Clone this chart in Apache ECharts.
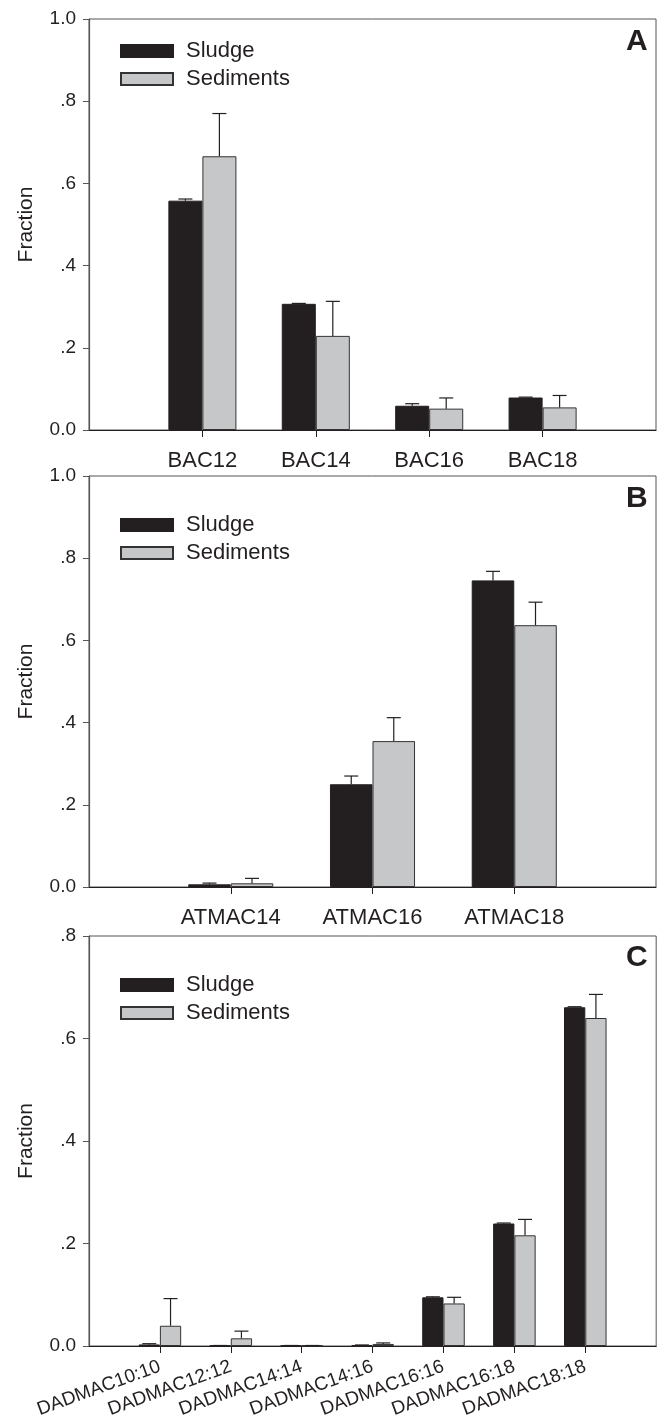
<!DOCTYPE html>
<html>
<head>
<meta charset="utf-8">
<script src="https://cdn.jsdelivr.net/npm/echarts@6/dist/echarts.min.js"></script>
<style>
  html, body { margin: 0; padding: 0; background: #fff; }
  #chart { width: 659px; height: 1423px; }
</style>
</head>
<body>
<div id="chart"></div>
<script>
// Panel A
var catsA = ['BAC12', 'BAC14', 'BAC16', 'BAC18'];
var sludgeA = [0.558, 0.307, 0.059, 0.079];
var sludgeErrA = [0.004, 0.001, 0.005, 0.001];
var sedA = [0.666, 0.229, 0.052, 0.055];
var sedErrA = [0.104, 0.084, 0.026, 0.029];

// Panel B
var catsB = ['ATMAC14', 'ATMAC16', 'ATMAC18'];
var sludgeB = [0.0065, 0.250, 0.746];
var sludgeErrB = [0.003, 0.020, 0.022];
var sedB = [0.009, 0.355, 0.637];
var sedErrB = [0.012, 0.057, 0.056];

// Panel C
var catsC = ['DADMAC10:10', 'DADMAC12:12', 'DADMAC14:14', 'DADMAC14:16', 'DADMAC16:16', 'DADMAC16:18', 'DADMAC18:18'];
var sludgeC = [0.003, 0.001, 0.001, 0.002, 0.095, 0.239, 0.661];
var sludgeErrC = [0.0015, 0, 0, 0, 0.001, 0.001, 0.001];
var sedC = [0.0395, 0.015, 0.001, 0.004, 0.083, 0.216, 0.640];
var sedErrC = [0.053, 0.014, 0, 0.002, 0.012, 0.031, 0.046];

var yLabelsA = ['0.0', '.2', '.4', '.6', '.8', '1.0'];
var yLabelsB = ['0.0', '.2', '.4', '.6', '.8', '1.0'];
var yLabelsC = ['0.0', '.2', '.4', '.6', '.8'];

var FONT = '"Liberation Sans", Arial, sans-serif';
var INK = '#231f20';
var GREY = '#c6c7c9';

function padCats(arr) { return [''].concat(arr, ['']); }
function padVals(arr) { return [null].concat(arr, [null]); }
function errData(vals, errs) {
    return vals.map(function (v, i) { return [i + 1, v, errs[i]]; });
}

// upper error bar; side -1 = left bar (sludge), +1 = right bar (sediments)
function errRender(side) {
    return function (params, api) {
        var x = api.value(0), v = api.value(1), e = api.value(2);
        var base = api.coord([x, v]);
        var top = api.coord([x, v + e]);
        var bw = api.size([1, 0])[0] * 0.3;
        var cx = base[0] + side * bw / 2;
        var half = 7;
        var st = { stroke: INK, lineWidth: 1.2 };
        return {
            type: 'group',
            children: [
                { type: 'line', shape: { x1: cx, y1: base[1], x2: cx, y2: top[1] }, style: st },
                { type: 'line', shape: { x1: cx - half, y1: top[1], x2: cx + half, y2: top[1] }, style: st }
            ]
        };
    };
}

var panels = [
    { cats: catsA, s: sludgeA, se: sludgeErrA, d: sedA, de: sedErrA, max: 1, yl: yLabelsA, top: 19, h: 411, letter: 'A', lt: 27, lgTop: 33, rotate: 0 },
    { cats: catsB, s: sludgeB, se: sludgeErrB, d: sedB, de: sedErrB, max: 1, yl: yLabelsB, top: 476, h: 411, letter: 'B', lt: 484, lgTop: 507, rotate: 0 },
    { cats: catsC, s: sludgeC, se: sludgeErrC, d: sedC, de: sedErrC, max: 0.8, yl: yLabelsC, top: 936, h: 410, letter: 'C', lt: 943, lgTop: 967, rotate: 20 }
];

var grid = [], xAxis = [], yAxis = [], series = [], legend = [], title = [];

panels.forEach(function (p, k) {
    var n = p.cats.length + 2;
    grid.push({
        left: 89, right: -2, top: p.top, height: p.h,
        show: true, borderColor: '#555', borderWidth: 1
    });
    xAxis.push({
        type: 'category', gridIndex: k, boundaryGap: false,
        data: padCats(p.cats),
        axisLine: { lineStyle: { color: INK, width: 1.2 } },
        axisTick: {
            length: 7, lineStyle: { color: INK },
            interval: function (i) { return i > 0 && i < n - 1; }
        },
        axisLabel: p.rotate ? {
            interval: 0, rotate: p.rotate, margin: 20,
            fontFamily: FONT, fontSize: 19, color: INK
        } : {
            interval: 0, margin: 20,
            fontFamily: FONT, fontSize: 22, color: INK
        }
    });
    yAxis.push({
        type: 'value', gridIndex: k, min: 0, max: p.max, interval: 0.2,
        name: 'Fraction', nameLocation: 'middle', nameGap: 52,
        nameTextStyle: { fontFamily: FONT, fontSize: 21, color: INK },
        axisLine: { show: true, lineStyle: { color: '#555', width: 1.2 } },
        axisTick: { show: true, length: 6, lineStyle: { color: '#555' } },
        axisLabel: {
            margin: 13, fontFamily: FONT, fontSize: 19, color: INK,
            formatter: (function (yl) {
                return function (v, i) { return yl[i]; };
            })(p.yl)
        },
        splitLine: { show: false }
    });
    series.push({
        name: 'Sludge', type: 'bar', xAxisIndex: k, yAxisIndex: k,
        barWidth: '30%', barGap: '0%',
        itemStyle: { color: INK, borderColor: INK, borderWidth: 1 },
        data: padVals(p.s)
    });
    series.push({
        name: 'Sediments', type: 'bar', xAxisIndex: k, yAxisIndex: k,
        barWidth: '30%', barGap: '0%',
        itemStyle: { color: GREY, borderColor: '#333', borderWidth: 1 },
        data: padVals(p.d)
    });
    series.push({
        type: 'custom', xAxisIndex: k, yAxisIndex: k, z: 5,
        renderItem: errRender(-1), data: errData(p.s, p.se)
    });
    series.push({
        type: 'custom', xAxisIndex: k, yAxisIndex: k, z: 5,
        renderItem: errRender(1), data: errData(p.d, p.de)
    });
    legend.push({
        data: ['Sludge', 'Sediments'], orient: 'vertical', icon: 'rect',
        left: 115, top: p.lgTop, itemWidth: 52, itemHeight: 12, itemGap: 2,
        selectedMode: false,
        textStyle: { fontFamily: FONT, fontSize: 22, color: INK, lineHeight: 26, padding: [0, 0, 0, 8] }
    });
    title.push({
        text: p.letter, left: 626, top: p.lt, padding: 0,
        textStyle: { fontFamily: FONT, fontSize: 30, fontWeight: 'bold', color: INK }
    });
});

var myChart = echarts.init(document.getElementById('chart'), null, { renderer: 'canvas' });
var chartOption = {
    animation: false,
    backgroundColor: '#fff',
    title: title,
    legend: legend,
    grid: grid,
    xAxis: xAxis,
    yAxis: yAxis,
    series: series
};
myChart.setOption(chartOption, true);
</script>
</body>
</html>
